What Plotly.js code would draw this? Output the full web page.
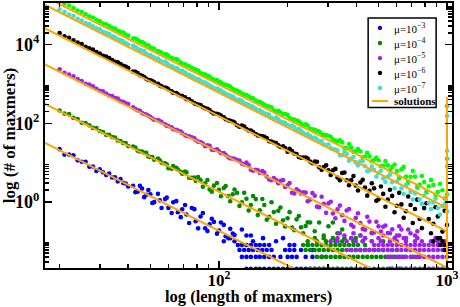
<!DOCTYPE html>
<html><head><meta charset="utf-8">
<script src="https://cdn.plot.ly/plotly-3.0.1.min.js"></script>
<style>html,body{margin:0;padding:0;background:#fff}#chart{width:460px;height:307px}</style>
</head><body><div id="chart"></div>
<script>
// ---- maxmer lengths (x) ----
const lengthsA = [20,21,22,23,24,25,26,27,28,29,30,31,32,33,34,35,36,37,38,39,40];
const lengthsB = [42,44,46,48,50,52,55,58,60,63,66,69,72,76,79,83,87,91,95,100,105,110,115,120,126,132,138,145,151,158,166,174,182,191,200,209,219,229,240,251,263,275,288,302,316,331,347,363,380,398,417,437,457,479,501,525,550,575,603,631,661,692,724,759,794,832,871,912,955,1000];
const lengthsMid = [43,45,47,49,51,54,56,59,62,65,68,71,74,78,81,85,89,93,98,102,107,112,117,123,129,135,141,148,155,162,170,178,186,195,204,214,224,234,245,257,269,282,295,309,324,339,355,372,389,407,427,447,468,490,513,537,562,589,617,646,676,708,741,776,813,851,891,933,977];

// ---- average number of maxmers, stored as log10 values ----
const limeLogA = [5.112,5.042,4.998,4.929,4.868,4.831,4.775,4.721,4.693,4.633,4.598,4.540,4.519,4.472,4.429,4.408,4.353,4.330,4.306,4.256,4.229];
const limeLogB = [4.156,4.123,4.069,3.992,3.928,3.897,3.822,3.754,3.715,3.643,3.606,3.515,3.477,3.410,3.366,3.279,3.240,3.192,3.111,3.061,2.990,2.961,2.879,2.834,2.750,2.719,2.652,2.582,2.549,2.471,2.427,2.333,2.320,2.237,2.214,2.102,2.071,1.992,1.972,1.861,1.834,1.789,1.703,1.682,1.579,1.537,1.514,1.366,1.379,1.291,1.286,1.153,1.158,1.073,1.061,0.921,0.932,0.890,0.787,0.830,0.645,0.640,0.645,0.440,0.506,0.400,0.435,0.251,0.296,0.191];
const limeLogMid = [4.155,4.074,4.034,3.985,3.907,3.838,3.795,3.747,3.668,3.636,3.543,3.504,3.450,3.377,3.339,3.256,3.207,3.131,3.102,3.038,2.971,2.930,2.844,2.801,2.731,2.690,2.639,2.549,2.506,2.442,2.408,2.300,2.281,2.236,2.136,2.094,2.049,1.946,1.946,1.850,1.808,1.721,1.702,1.657,1.564,1.568,1.379,1.471,1.272,1.344,1.135,1.250,1.035,1.130,0.906,1.040,0.805,0.951,0.616,0.891,0.516,0.791,0.386,0.661,0.267,0.561,0.176,0.462,0.087];
const limeTailLen = [1000,1000];
const limeTailLog = [2.44,1.10];

const cyanLogA = [4.901,4.834,4.767,4.728,4.659,4.616,4.549,4.522,4.469,4.417,4.390,4.329,4.300,4.270,4.218,4.185,4.134,4.119,4.087,4.040,4.004];
const cyanLogB = [3.970,3.895,3.845,3.768,3.738,3.671,3.598,3.568,3.489,3.421,3.382,3.329,3.249,3.198,3.122,3.087,3.038,2.960,2.891,2.857,2.790,2.723,2.683,2.596,2.572,2.487,2.440,2.376,2.333,2.249,2.214,2.107,2.105,2.026,1.956,1.941,1.830,1.808,1.705,1.679,1.640,1.544,1.457,1.460,1.345,1.309,1.191,1.219,1.105,1.007,1.034,0.907,0.802,0.814,0.737,0.596,0.637,0.502,0.517,0.344,0.430,0.256,0.223,0.068,0.155,-0.019,-0.013,-0.156,-0.111,-0.244];
const cyanLogMid = [3.943,3.864,3.832,3.739,3.701,3.646,3.573,3.535,3.452,3.404,3.327,3.298,3.234,3.167,3.127,3.040,2.997,2.927,2.886,2.836,2.745,2.702,2.638,2.595,2.509,2.472,2.421,2.339,2.290,2.240,2.137,2.146,2.044,2.005,1.915,1.900,1.857,1.759,1.724,1.622,1.596,1.552,1.449,1.365,1.334,1.195,1.281,1.048,1.144,0.931,1.036,0.782,0.899,0.645,0.792,0.507,0.693,0.350,0.596,0.203,0.468,0.064,0.351,-0.043,0.234,-0.181,0.085,-0.318,-0.052];
const cyanTailLen = [1000,1000,1000];
const cyanTailLog = [2.19,1.30,0.90];

const blackLogA = [4.293,4.215,4.176,4.111,4.051,4.015,3.945,3.910,3.874,3.813,3.774,3.717,3.696,3.658,3.609,3.567,3.553,3.506,3.463,3.446,3.403];
const blackLogB = [3.315,3.276,3.208,3.133,3.095,3.046,2.961,2.911,2.864,2.778,2.741,2.692,2.614,2.561,2.491,2.462,2.381,2.335,2.252,2.222,2.155,2.075,2.045,1.951,1.945,1.855,1.817,1.727,1.682,1.656,1.544,1.513,1.438,1.414,1.277,1.296,1.219,1.125,1.132,1.026,1.027,0.881,0.886,0.806,0.807,0.621,0.735,0.550,0.554,0.419,0.493,0.367,0.282,0.346,0.066,0.205,0.059,0.154,-0.097,-0.062,-0.238,-0.079,-0.178,-0.432,-0.157,-0.433,-0.555,-0.368,-0.754,-0.589];
const blackLogMid = [3.308,3.225,3.177,3.100,3.072,3.007,2.940,2.900,2.813,2.771,2.700,2.659,2.609,2.518,2.476,2.411,2.368,2.282,2.245,2.195,2.105,2.063,2.019,1.915,1.916,1.819,1.777,1.691,1.671,1.627,1.533,1.495,1.398,1.371,1.350,1.231,1.142,1.132,1.103,0.985,1.022,0.816,0.931,0.685,0.840,0.554,0.748,0.423,0.657,0.292,0.566,0.160,0.475,0.029,0.394,-0.122,0.312,-0.263,0.231,-0.404,0.140,-0.536,0.059,-0.667,-0.032,-0.798,-0.134,-0.919,-0.225];
const blackBandLevels = [0.06,0.08,0.1,0.12];
const blackBandLengths = [[977],[933,977],[871,955],[912]];

const purpleLogA = [3.372,3.285,3.242,3.197,3.123,3.076,3.006,2.985,2.942,2.880,2.830,2.817,2.760,2.709,2.694,2.642,2.629,2.562,2.547,2.506,2.488];
const purpleLogB = [2.405,2.330,2.262,2.225,2.161,2.090,2.059,1.977,1.928,1.850,1.817,1.748,1.678,1.645,1.571,1.526,1.419,1.429,1.322,1.288,1.245,1.134,1.104,1.065,0.975,1.000,0.821,0.819,0.736,0.750,0.571,0.608,0.478,0.555,0.425,0.234,0.319,0.213,0.238,0.060,0.157,-0.136,-0.050,-0.037,-0.293,-0.190,-0.339,-0.217,-0.582,-0.406,-0.537,-0.706,-0.500,-0.779,-0.621,-0.630,-0.789,-0.697,-0.854,-0.699,-0.921,-0.796,-0.854];
const purpleLogMid = [2.362,2.321,2.235,2.192,2.122,2.081,2.030,1.940,1.897,1.833,1.790,1.703,1.667,1.616,1.534,1.485,1.442,1.332,1.341,1.239,1.200,1.109,1.095,1.052,0.954,0.939,0.792,0.806,0.787,0.649,0.550,0.555,0.537,0.382,0.480,0.217,0.278,0.244,0.017,0.228,-0.120,0.131,-0.277,0.004,-0.415,-0.093,-0.482,-0.180,-0.629,-0.288,-0.686,-0.375,-0.783,-0.502,-0.751,-0.599,-0.798];
const purpleExtraLen = [617,676,741];
const purpleExtraLog = [-0.620,-0.699,-0.745];
const purpleBandLevels = [0.02,0.04,0.06,0.08,0.1,0.12,0.14,0.16];
const purpleBandLengths = [
  [575,603,631,661,692,724,759,794,832,871,912,955,1000],
  [550,575,603,631,661,692,724,759,794,832,871,912,955,1000],
  [363,380,398,417,437,457,479,501,525,550,575,603,631,661,692,724,759,794,832,871,912,955,1000],
  [479,501,525,550,575,603,631,661,692,724,759,794,832,871,912,955,1000],
  [309,331,363,398,427,468,513,562,603,661,724,776,851,912,977],
  [331,380,437,501,589,646,741,891],
  [355,417,525,617],
  [339,389,468]
];

const greenLogA = [2.326,2.247,2.233,2.138,2.107,2.015,2.007,1.948,1.883,1.878,1.804,1.778,1.707,1.705,1.649,1.641,1.561,1.550,1.497,1.497,1.420];
const greenLogB = [1.407,1.304,1.282,1.247,1.145,1.074,1.059,0.981,0.859,0.913,0.826,0.718,0.751,0.615,0.536,0.554,0.475,0.319,0.414,0.306,0.353,0.148,0.196,0.231,-0.009,0.080,-0.077,0.073,-0.210,-0.078,-0.379,-0.258,-0.226,-0.465,-0.415,-0.654,-0.443,-0.645,-0.614,-0.523,-0.745,-0.523,-0.854,-0.620,-0.523,-0.796,-0.699];
const greenLogMid = [1.386,1.283,1.253,1.154,1.144,1.105,0.998,0.956,0.844,0.870,0.769,0.773,0.617,0.621,0.632,0.388,0.559,0.261,0.482,0.144,0.405,0.016,0.318,-0.101,0.231,-0.218,0.153,-0.335,0.076,-0.452,-0.006,-0.555,-0.143,-0.622,-0.260,-0.719,-0.358,-0.796,-0.515];
const greenBandLevels = [0.02,0.04,0.06,0.08,0.1,0.12,0.14];
const greenBandLengths = [
  [251,263,275,288,302,316,331,347,363,380,398,417,437,457,479,501,525,550,575,603,631,661,692,724,759,794,832,871,912,955,1000],
  [269,282,295,309,324,339,355,372,389,407,427,447,468,490,513,537,562,589,617,646,708,741],
  [240,251,263,275,288,302,316,331,347,363,380,398,417,437,457,479,501,525,575,603],
  [234,245,257,269,282,295,309,324,339,355,372,389,407,437],
  [245,269,295,324,347,389,427,468,525],
  [263,288,316,355,380,398,437],
  [417]
];

const blueLogA = [1.343,1.204,1.205,1.188,1.058,1.023,1.021,0.896,0.903,0.787,0.833,0.756,0.685,0.722,0.621,0.625,0.524,0.585,0.484,0.469,0.395];
const blueLogB = [0.408,0.259,0.341,0.182,0.194,-0.005,0.041,0.073,-0.151,-0.009,-0.263,-0.187,-0.320,-0.154,-0.492,-0.371,-0.670,-0.568,-0.507,-0.725,-0.584,-0.923,-0.801];
const blueLogMid = [0.249,0.410,0.122,0.303,-0.025,0.206,-0.153,0.109,-0.280,0.022,-0.387,-0.076,-0.534,-0.183,-0.671,-0.280,-0.739,-0.427,-0.806,-0.524,-0.873,-0.682,-0.840];
const blueBandLevels = [0.02,0.04,0.06,0.08,0.1,0.12,0.14,0.2];
const blueBandLengths = [
  [132,138,145,151,158,166,174,182,191,200,209,219,229,240,251,263,275,288,302,331,380,437,562,617],
  [126,132,138,145,151,158,166,174,186,200,209,219,240,257,282],
  [123,129,135,141,148,155,162,170,195,204,214,229,257],
  [121,126,132,138,145,151,158,166,204,214,245],
  [105,117,141,178],
  [112,156,191],
  [132,138],
  [126]
];

// ---- analytical solutions (log10 count at length 17 and at length 1000) ----
const solutionLen = [17,1000];
const solutionLogStart = [1.521,2.514,3.516,4.436,5.033,5.237];
const solutionLogEnd = [-3.665,-2.672,-1.670,-0.750,-0.153,0.051];
const solutionTailLen = [1000,1000];
const solutionTailLog = [2.672,-2.0];

// ---- legend labels / colours ----
const seriesNames = ['μ=10<sup>−3</sup>','μ=10<sup>−4</sup>','μ=10<sup>−5</sup>','μ=10<sup>−6</sup>','μ=10<sup>−7</sup>'];
const colors = {blue:'#0000ff', green:'#008b00', purple:'#a020f0', black:'#000000', cyan:'#40e0d0', lime:'#00ff00', orange:'#ffa500'};

const pow10 = a => a.map(v => Math.pow(10, v));
function build(parts){
  const x = [], y = [];
  parts.forEach(([xs, ys]) => { xs.forEach((v, i) => { x.push(v); y.push(ys[i]); }); });
  return {x, y};
}
function bands(levels, lens){ return levels.map((lv, i) => [lens[i], lens[i].map(() => lv)]); }
const head = (arr, n) => arr.slice(0, n);

const blue = build([[lengthsA, pow10(blueLogA)], [head(lengthsB, blueLogB.length), pow10(blueLogB)],
  [head(lengthsMid, blueLogMid.length), pow10(blueLogMid)], ...bands(blueBandLevels, blueBandLengths)]);
const green = build([[lengthsA, pow10(greenLogA)], [head(lengthsB, greenLogB.length), pow10(greenLogB)],
  [head(lengthsMid, greenLogMid.length), pow10(greenLogMid)], ...bands(greenBandLevels, greenBandLengths)]);
const purple = build([[lengthsA, pow10(purpleLogA)], [head(lengthsB, purpleLogB.length), pow10(purpleLogB)],
  [head(lengthsMid, purpleLogMid.length), pow10(purpleLogMid)],
  [purpleExtraLen, pow10(purpleExtraLog)], ...bands(purpleBandLevels, purpleBandLengths)]);
const black = build([[lengthsA, pow10(blackLogA)], [lengthsB, pow10(blackLogB)],
  [head(lengthsMid, blackLogMid.length), pow10(blackLogMid)], ...bands(blackBandLevels, blackBandLengths)]);
const cyan = build([[lengthsA, pow10(cyanLogA)], [lengthsB, pow10(cyanLogB)],
  [head(lengthsMid, cyanLogMid.length), pow10(cyanLogMid)], [cyanTailLen, pow10(cyanTailLog)]]);
const lime = build([[lengthsA, pow10(limeLogA)], [lengthsB, pow10(limeLogB)],
  [head(lengthsMid, limeLogMid.length), pow10(limeLogMid)], [limeTailLen, pow10(limeTailLog)]]);

const solX = [], solY = [];
solutionLogStart.forEach((s, i) => { solX.push(solutionLen[0], solutionLen[1], null); solY.push(Math.pow(10, s), Math.pow(10, solutionLogEnd[i]), null); });
solX.push(solutionTailLen[0], solutionTailLen[1]); solY.push(...pow10(solutionTailLog));

const mk = (d, c, name) => ({type:'scatter', mode:'markers', x:d.x, y:d.y, name:name,
  marker:{color:c, size:4.6, line:{width:0}}, showlegend:false, hoverinfo:'skip'});

const traces = [
  mk(blue, colors.blue, seriesNames[0]),
  mk(green, colors.green, seriesNames[1]),
  mk(purple, colors.purple, seriesNames[2]),
  mk(black, colors.black, seriesNames[3]),
  mk(cyan, colors.cyan, seriesNames[4]),
  mk(lime, colors.lime, 'μ=10<sup>−8</sup>'),
  {type:'scatter', mode:'lines', x:solX, y:solY, name:'solutions', line:{color:colors.orange, width:2}, showlegend:false, hoverinfo:'skip'}
];

const F = '"Liberation Serif", "Times New Roman", serif';
const xMinor = [20,30,40,50,60,70,80,90,200,300,400,500,600,700,800,900];
const yMinor = [0.03,0.04,0.05,0.06,0.07,0.08,0.09,2,3,4,5,6,7,8,9,200,300,400,500,600,700,800,900,20000,30000,40000,50000,60000,70000,80000,90000];

// manual legend
const legendColors = [colors.blue, colors.green, colors.purple, colors.black, colors.cyan];
const rowY = [0.906,0.849,0.792,0.736,0.679];
const shapes = [{type:'rect', xref:'paper', yref:'paper', x0:0.794, x1:0.961, y0:0.606, y1:0.943,
  line:{color:'#000', width:1.5}, fillcolor:'#fff', layer:'above'}];
const annotations = [];
legendColors.forEach((c, i) => {
  shapes.push({type:'circle', xref:'paper', yref:'paper', xsizemode:'pixel', ysizemode:'pixel',
    xanchor:0.823, yanchor:rowY[i], x0:-2.2, x1:2.2, y0:-2.2, y1:2.2, fillcolor:c, line:{width:0}, layer:'above'});
  annotations.push({xref:'paper', yref:'paper', x:0.852, y:rowY[i], xanchor:'left', yanchor:'middle',
    text:seriesNames[i], showarrow:false, font:{family:F, size:11, color:'#000'}});
});
shapes.push({type:'line', xref:'paper', yref:'paper', x0:0.803, x1:0.843, y0:0.630, y1:0.630,
  line:{color:colors.orange, width:2}, layer:'above'});
annotations.push({xref:'paper', yref:'paper', x:0.852, y:0.630, xanchor:'left', yanchor:'middle',
  text:'<b>solutions</b>', showarrow:false, font:{family:F, size:11, color:'#000'}});
// x-axis title (annotation, just under the tick labels)
annotations.push({xref:'paper', yref:'paper', x:0.5, y:-0.108, xanchor:'center', yanchor:'middle',
  text:'<b>log (length of maxmers)</b>', showarrow:false, font:{family:F, size:16.5, color:'#000'}});

const axisCommon = {type:'log', showgrid:false, zeroline:false, showline:true, linecolor:'#000', linewidth:2,
  mirror:'ticks', ticks:'inside', ticklen:7, tickwidth:1.5, tickcolor:'#000', tickmode:'array',
  tickfont:{family:F, size:18, color:'#000', weight:'bold'}};

const layout = {
  width:460, height:307, margin:{l:45, r:8, t:3, b:39}, paper_bgcolor:'#fff', plot_bgcolor:'#fff',
  showlegend:false,
  xaxis:Object.assign({}, axisCommon, {range:[1.237, 3.022], tickvals:[100,1000], ticktext:['10<sup>2</sup>','10<sup>3</sup>'],
    ticklabelstandoff:-4, tickfont:{family:F, size:17, color:'#000', weight:'bold'},
    minor:{tickmode:'array', tickvals:xMinor, ticks:'inside', ticklen:4, tickwidth:1.5, tickcolor:'#000'}}),
  yaxis:Object.assign({}, axisCommon, {range:[-1.68, 5.06], tickvals:[1,100,10000], ticktext:['10<sup>0</sup>','10<sup>2</sup>','10<sup>4</sup>'],
    minor:{tickmode:'array', tickvals:yMinor, ticks:'inside', ticklen:4, tickwidth:1.5, tickcolor:'#000'},
    title:{text:'log (# of maxmers)', font:{family:F, size:17, color:'#000', weight:'bold'}, standoff:2}}),
  shapes:shapes, annotations:annotations
};

Plotly.newPlot('chart', traces, layout, {displayModeBar:false, staticPlot:true});
</script></body></html>
